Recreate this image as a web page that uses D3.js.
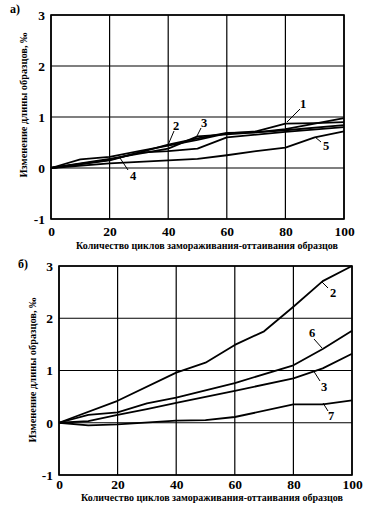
<!DOCTYPE html>
<html><head><meta charset="utf-8">
<script src="https://cdn.jsdelivr.net/npm/d3@7"></script>
<style>
body{margin:0;background:#fff;}
svg{display:block;}
svg text{font-family:"Liberation Serif","Times New Roman","DejaVu Serif",serif !important;fill:#000;}
</style></head>
<body>
<svg id="c" width="377" height="512"></svg>
<script>
// ---- data ----
const xTicks = [0, 20, 40, 60, 80, 100];
const yTicks = [-1, 0, 1, 2, 3];
const xTitle = "Количество циклов замораживания-оттаивания образцов";
const yTitle = "Изменение длины образцов, ‰";

// panel a)
const aCycles1 = [0, 10, 20, 30, 40, 50, 60, 70, 80, 90, 100];
const aCurve1  = [0, 0.17, 0.22, 0.33, 0.44, 0.55, 0.68, 0.72, 0.87, 0.88, 0.9];
const aCycles2 = [0, 20, 30, 40, 50, 60, 70, 80, 100];
const aCurve2  = [0, 0.15, 0.3, 0.46, 0.58, 0.69, 0.7, 0.76, 0.98];
const aCycles3 = [0, 20, 40, 50, 60, 80, 100];
const aCurve3  = [0, 0.18, 0.38, 0.62, 0.66, 0.74, 0.84];
const aCycles4 = [0, 20, 30, 40, 50, 60, 80, 100];
const aCurve4  = [0, 0.16, 0.3, 0.33, 0.38, 0.6, 0.71, 0.8];
const aCycles5 = [0, 20, 40, 50, 60, 70, 80, 90, 100];
const aCurve5  = [0, 0.09, 0.15, 0.18, 0.25, 0.33, 0.4, 0.6, 0.72];

// panel б)
const bCycles2 = [0, 20, 40, 50, 60, 70, 80, 90, 100];
const bCurve2  = [0, 0.42, 0.96, 1.15, 1.49, 1.75, 2.22, 2.71, 3.0];
const bCycles6 = [0, 10, 20, 30, 40, 60, 80, 90, 100];
const bCurve6  = [0, 0.15, 0.2, 0.37, 0.48, 0.76, 1.1, 1.41, 1.76];
const bCycles3 = [0, 10, 20, 30, 40, 60, 80, 90, 100];
const bCurve3  = [0, 0.03, 0.15, 0.26, 0.38, 0.61, 0.85, 1.04, 1.32];
const bCycles7 = [0, 10, 20, 40, 50, 60, 80, 90, 100];
const bCurve7  = [0, -0.05, -0.03, 0.04, 0.05, 0.11, 0.35, 0.35, 0.43];

const panels = [
  {
    tag: "а)", tagX: 10, tagY: 13,
    x0: 51, x1: 344, y0: 15, y1: 219,
    yTitleX: 27, yTitleY: 105, xTitleX: 207, xTitleY: 249, tickLabelY: 236, yLabelX: 45,
    series: [
      {c: aCycles1, v: aCurve1, label: "1", lx: 303, ly: 108, l1: [300, 109], l2: [287, 122]},
      {c: aCycles2, v: aCurve2, label: "2", lx: 176, ly: 130, l1: [174, 131], l2: [168, 145]},
      {c: aCycles3, v: aCurve3, label: "3", lx: 204, ly: 127, l1: [201, 128], l2: [197, 136]},
      {c: aCycles4, v: aCurve4, label: "4", lx: 133, ly: 180, l1: [128, 170], l2: [120, 158]},
      {c: aCycles5, v: aCurve5, label: "5", lx: 326, ly: 150, l1: [321, 142], l2: [315, 137]}
    ]
  },
  {
    tag: "б)", tagX: 18, tagY: 268,
    x0: 59, x1: 352, y0: 266, y1: 475,
    yTitleX: 36, yTitleY: 370, xTitleX: 212, xTitleY: 501, tickLabelY: 489, yLabelX: 53,
    series: [
      {c: bCycles2, v: bCurve2, label: "2", lx: 333, ly: 297, l1: [322, 282], l2: [328, 288]},
      {c: bCycles6, v: bCurve6, label: "6", lx: 312, ly: 337, l1: [314, 339], l2: [322, 348]},
      {c: bCycles3, v: bCurve3, label: "3", lx: 324, ly: 391, l1: [313, 370], l2: [320, 381]},
      {c: bCycles7, v: bCurve7, label: "7", lx: 331, ly: 420, l1: [323, 403], l2: [328, 411]}
    ]
  }
];

const svg = d3.select("#c");

panels.forEach(p => {
  const x = d3.scaleLinear().domain([0, 100]).range([p.x0, p.x1]);
  const y = d3.scaleLinear().domain([-1, 3]).range([p.y1, p.y0]);
  const g = svg.append("g");

  // grid
  g.selectAll(".gx").data(xTicks).join("line")
    .attr("x1", d => x(d)).attr("x2", d => x(d))
    .attr("y1", p.y0).attr("y2", p.y1)
    .attr("stroke", "#000").attr("stroke-width", 1.2);
  g.selectAll(".gy").data(yTicks).join("line")
    .attr("x1", p.x0).attr("x2", p.x1)
    .attr("y1", d => y(d)).attr("y2", d => y(d))
    .attr("stroke", "#000").attr("stroke-width", 1.2);
  g.append("rect").attr("x", p.x0).attr("y", p.y0)
    .attr("width", p.x1 - p.x0).attr("height", p.y1 - p.y0)
    .attr("fill", "none").attr("stroke", "#000").attr("stroke-width", 1.6);

  // tick labels via d3 axes (no lines)
  const xa = g.append("g").attr("transform", `translate(0,${p.tickLabelY - 12})`)
    .call(d3.axisBottom(x).tickValues(xTicks).tickSize(0).tickPadding(0));
  xa.select(".domain").remove();
  xa.selectAll("text").attr("font-size", 13.5).attr("font-weight", "bold").attr("dy", "0.9em");

  const ya = g.append("g").attr("transform", `translate(${p.yLabelX},0)`)
    .call(d3.axisLeft(y).tickValues(yTicks).tickSize(0).tickPadding(0).tickFormat(d3.format("d")));
  ya.select(".domain").remove();
  ya.selectAll("text").attr("font-size", 13.5).attr("font-weight", "bold")
    .text(d => d < 0 ? "-" + Math.abs(d) : d);

  // titles
  g.append("text").attr("x", p.xTitleX).attr("y", p.xTitleY)
    .attr("text-anchor", "middle").attr("font-size", 10).attr("font-weight", "bold")
    .text(xTitle);
  g.append("text").attr("transform", `translate(${p.yTitleX},${p.yTitleY}) rotate(-90)`)
    .attr("text-anchor", "middle").attr("font-size", 10.4).attr("font-weight", "bold")
    .text(yTitle);
  g.append("text").attr("x", p.tagX).attr("y", p.tagY)
    .attr("font-size", 12).attr("font-weight", "bold").text(p.tag);

  // curves
  const line = d3.line().x(d => x(d[0])).y(d => y(d[1]));
  p.series.forEach(s => {
    g.append("path").datum(d3.zip(s.c, s.v)).attr("d", line)
      .attr("fill", "none").attr("stroke", "#000").attr("stroke-width", 1.8)
      .attr("stroke-linejoin", "round");
    g.append("line").attr("x1", s.l1[0]).attr("y1", s.l1[1])
      .attr("x2", s.l2[0]).attr("y2", s.l2[1])
      .attr("stroke", "#000").attr("stroke-width", 1);
    g.append("text").attr("x", s.lx).attr("y", s.ly).attr("text-anchor", "middle")
      .attr("font-size", 12.5).attr("font-weight", "bold").text(s.label);
  });
});
</script>
</body></html>
